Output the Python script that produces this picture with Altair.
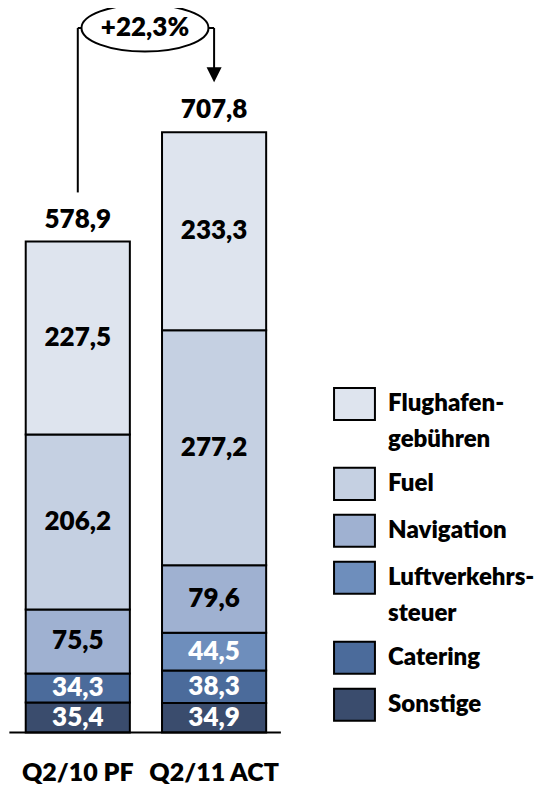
import altair as alt
import pandas as pd

# ---------------- data ----------------
periods = ["Q2/10 PF", "Q2/11 ACT"]
segments = ["Sonstige", "Catering", "Luftverkehrssteuer", "Navigation", "Fuel", "Flughafengebühren"]
values_q210 = [35.4, 34.3, 0.0, 75.5, 206.2, 227.5]
values_q211 = [34.9, 38.3, 44.5, 79.6, 277.2, 233.3]
segment_colors = ["#3A4C6D", "#4B6B9B", "#6E8EBC", "#9FB1D1", "#C5D0E2", "#DEE4EE"]
label_colors = ["white", "white", "white", "black", "black", "black"]
growth_label = "+22,3%"
legend_order = ["Flughafengebühren", "Fuel", "Navigation", "Luftverkehrssteuer", "Catering", "Sonstige"]
legend_texts = [["Flughafen-", "gebühren"], ["Fuel"], ["Navigation"], ["Luftverkehrs-", "steuer"], ["Catering"], ["Sonstige"]]

FONT = "Lato"
WEIGHT = 800
W, H = 535, 777
X_DOMAIN = [-0.512, 3.413]
Y_DOMAIN = [-61.9, 854.4]
BAR_HALF = 0.382


def fmt(v):
    return f"{v:.1f}".replace(".", ",")


rows = []
for i, (p, vals) in enumerate([(periods[0], values_q210), (periods[1], values_q211)]):
    for k, (s, v) in enumerate(zip(segments, vals)):
        rows.append({"period": p, "idx": i, "segment": s, "order": k, "value": v,
                     "label": fmt(v), "lcolor": label_colors[k]})
bars_df = pd.DataFrame(rows)
bars_df = bars_df[bars_df["value"] > 0]

totals = [round(sum(values_q210), 1), round(sum(values_q211), 1)]
totals_df = pd.DataFrame({"idx": [0, 1], "total": totals, "label": [fmt(t) for t in totals]})
cats_df = pd.DataFrame({"idx": [0, 1], "period": periods})


def xs():
    return alt.Scale(domain=X_DOMAIN, nice=False, zero=False)


y_scale = alt.Scale(domain=Y_DOMAIN, nice=False, zero=False)
color_scale = alt.Scale(domain=segments, range=segment_colors)

base_bars = alt.Chart(bars_df).transform_stack(
    stack="value", as_=["y0", "y1"], groupby=["period"], sort=[alt.SortField("order")]
).transform_calculate(
    xa=f"datum.idx - {BAR_HALF}", xb=f"datum.idx + {BAR_HALF}", ym="(datum.y0 + datum.y1) / 2", xc="datum.idx"
)

bars = base_bars.mark_rect(stroke="black", strokeWidth=2).encode(
    x=alt.X("xa:Q", scale=xs(), axis=None), x2="xb:Q",
    y=alt.Y("y0:Q", scale=y_scale, axis=None), y2="y1:Q",
    color=alt.Color("segment:N", scale=color_scale, legend=None),
)

bar_labels = base_bars.mark_text(font=FONT, fontSize=26, fontWeight=WEIGHT, baseline="middle").encode(
    x=alt.X("xc:Q", scale=xs(), axis=None),
    y=alt.Y("ym:Q", scale=y_scale, axis=None),
    text="label:N",
    color=alt.Color("lcolor:N", scale=None),
)

total_labels = alt.Chart(totals_df).mark_text(
    font=FONT, fontSize=26, fontWeight=WEIGHT, baseline="alphabetic", dy=-14, color="black"
).encode(
    x=alt.X("idx:Q", scale=xs(), axis=None),
    y=alt.Y("total:Q", scale=y_scale, axis=None),
    text="label:N",
)

cats_df["ylab"] = -47.8
cat_labels = alt.Chart(cats_df).mark_text(
    font=FONT, fontSize=25, fontWeight=WEIGHT, baseline="middle", color="black"
).encode(
    x=alt.X("idx:Q", scale=xs(), axis=None),
    y=alt.Y("ylab:Q", scale=y_scale, axis=None),
    text="period:N",
)

# baseline
base_df = pd.DataFrame({"x": [-0.502], "x2": [1.49], "y": [0.0]})
baseline = alt.Chart(base_df).mark_rule(color="black", strokeWidth=2).encode(
    x=alt.X("x:Q", scale=xs(), axis=None), x2="x2:Q",
    y=alt.Y("y:Q", scale=y_scale, axis=None),
)

# growth bracket
bracket_level = 830.8
gap_left = 58
gap_right = 59
arrow_center = totals[1] + gap_right + 8.8
seg_df = pd.DataFrame({
    "x": [0, 0, 1],
    "x2": [0, 1, 1],
    "y": [totals[0] + gap_left, bracket_level, bracket_level],
    "y2": [bracket_level, bracket_level, arrow_center],
})
bracket = alt.Chart(seg_df).mark_rule(color="black", strokeWidth=2).encode(
    x=alt.X("x:Q", scale=xs(), axis=None), x2="x2:Q",
    y=alt.Y("y:Q", scale=y_scale, axis=None), y2="y2:Q",
)
arrow_df = pd.DataFrame({"x": [1], "y": [arrow_center]})
arrow = alt.Chart(arrow_df).mark_point(
    shape="M-1,-1L1,-1L0,1Z", size=225, filled=True, color="black", opacity=1
).encode(
    x=alt.X("x:Q", scale=xs(), axis=None),
    y=alt.Y("y:Q", scale=y_scale, axis=None),
)
ell_path = ("M1,0 C1,0.2043 0.5523,0.37 0,0.37 C-0.5523,0.37 -1,0.2043 -1,0 "
            "C-1,-0.2043 -0.5523,-0.37 0,-0.37 C0.5523,-0.37 1,-0.2043 1,0 Z")
ell_df = pd.DataFrame({"x": [0.493], "y": [bracket_level], "label": [growth_label]})
ellipse = alt.Chart(ell_df).mark_point(
    shape=ell_path, size=127 * 127, filled=True, fill="white", stroke="black", strokeWidth=2, opacity=1
).encode(
    x=alt.X("x:Q", scale=xs(), axis=None),
    y=alt.Y("y:Q", scale=y_scale, axis=None),
)
ell_text = alt.Chart(ell_df).mark_text(
    font=FONT, fontSize=26, fontWeight=WEIGHT, baseline="middle", color="black"
).encode(
    x=alt.X("x:Q", scale=xs(), axis=None),
    y=alt.Y("y:Q", scale=y_scale, axis=None),
    text="label:N",
)

# legend (custom, positioned through the same scales)
LEG_TOP = 387.4     # data units of first entry centre
LEG_STEP = 55.4     # data units per single-line entry
LEG_LINE = 0.77     # text line spacing in entry units
LEG_X = 2.03
LEG_HALF_W = 0.15
LEG_HALF_H = 18.9
leg_rows, leg_text_rows = [], []
pos = 0.0
for name, lines in zip(legend_order, legend_texts):
    yc = LEG_TOP - LEG_STEP * pos
    leg_rows.append({"segment": name, "x": LEG_X - LEG_HALF_W, "x2": LEG_X + LEG_HALF_W,
                     "y": yc - LEG_HALF_H, "y2": yc + LEG_HALF_H})
    for j, t in enumerate(lines):
        leg_text_rows.append({"text": t, "x": LEG_X + 0.246, "y": yc - LEG_STEP * LEG_LINE * j})
    pos += 1 + 0.7 * (len(lines) - 1)
leg_df = pd.DataFrame(leg_rows)
leg_text_df = pd.DataFrame(leg_text_rows)

leg_boxes = alt.Chart(leg_df).mark_rect(stroke="black", strokeWidth=2).encode(
    x=alt.X("x:Q", scale=xs(), axis=None), x2="x2:Q",
    y=alt.Y("y:Q", scale=y_scale, axis=None), y2="y2:Q",
    color=alt.Color("segment:N", scale=color_scale, legend=None),
)
leg_labels = alt.Chart(leg_text_df).mark_text(
    font=FONT, fontSize=24, fontWeight=WEIGHT, baseline="middle", align="left", color="black"
).encode(
    x=alt.X("x:Q", scale=xs(), axis=None),
    y=alt.Y("y:Q", scale=y_scale, axis=None),
    text="text:N",
)

chart = alt.layer(
    bars, bar_labels, total_labels, cat_labels, baseline, bracket, ellipse, ell_text, arrow,
    leg_boxes, leg_labels
).properties(
    width=W, height=H, padding=0, autosize=alt.AutoSizeParams(type="none")
).configure_view(stroke=None)

chart.save("out.html", embed_options={"renderer": "svg", "actions": False})
